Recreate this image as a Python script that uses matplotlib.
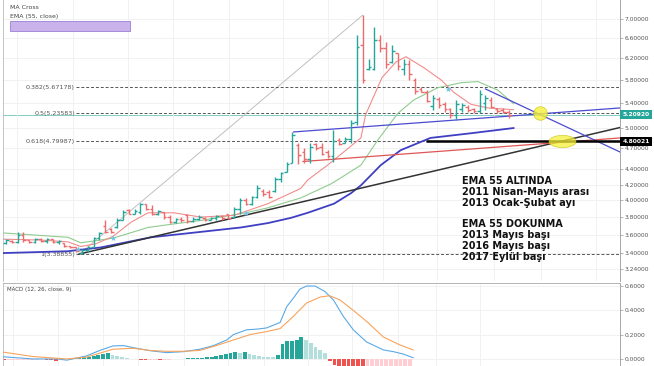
import numpy as np
import matplotlib
matplotlib.use('Agg')
import matplotlib.pyplot as plt
import matplotlib.transforms as mtransforms
from matplotlib.patches import Rectangle
from matplotlib.path import Path
from matplotlib.ticker import FixedLocator, NullLocator, NullFormatter

# haftalik barlar (acilis, yuksek, dusuk, kapanis)
opens = [3.51, 3.53, 3.52, 3.60, 3.54, 3.52, 3.55, 3.53, 3.55, 3.52,
         3.51, 3.48, 3.46, 3.40, 3.43, 3.47, 3.56, 3.70, 3.66, 3.68,
         3.77, 3.88, 3.84, 3.86, 3.95, 3.89, 3.83, 3.86, 3.80, 3.74,
         3.78, 3.82, 3.75, 3.78, 3.79, 3.77, 3.79, 3.81, 3.83, 3.80,
         3.90, 4.01, 3.95, 4.04, 4.12, 4.10, 4.12, 4.27, 4.36, 4.49,
         4.75, 4.65, 4.55, 4.76, 4.72, 4.64, 4.58, 4.82, 4.78, 4.83,
         5.10, 6.45, 5.99, 6.00, 6.55, 6.40, 6.12, 6.30, 6.00, 6.10,
         5.80, 5.64, 5.58, 5.35, 5.47, 5.38, 5.30, 5.20, 5.30, 5.34,
         5.30, 5.27, 5.40, 5.45, 5.30, 5.28, 5.25]
highs = [3.55, 3.54, 3.63, 3.63, 3.54, 3.56, 3.56, 3.56, 3.55, 3.54,
         3.51, 3.48, 3.46, 3.44, 3.48, 3.57, 3.63, 3.76, 3.67, 3.79,
         3.88, 3.90, 3.89, 3.97, 3.96, 3.94, 3.88, 3.86, 3.82, 3.79,
         3.80, 3.84, 3.80, 3.82, 3.80, 3.80, 3.82, 3.82, 3.84, 3.92,
         4.03, 4.03, 4.06, 4.19, 4.14, 4.13, 4.30, 4.37, 4.50, 4.94,
         4.77, 4.70, 4.77, 4.78, 4.77, 4.67, 4.97, 4.85, 4.86, 5.13,
         6.66, 7.08, 6.19, 6.82, 6.66, 6.52, 6.46, 6.30, 6.19, 6.17,
         5.84, 5.67, 5.62, 5.53, 5.50, 5.41, 5.32, 5.45, 5.40, 5.36,
         5.32, 5.62, 5.53, 5.50, 5.32, 5.32, 5.29]
lows = [3.50, 3.51, 3.51, 3.52, 3.51, 3.51, 3.52, 3.51, 3.51, 3.50,
        3.47, 3.45, 3.41, 3.39, 3.41, 3.46, 3.54, 3.62, 3.62, 3.67,
        3.76, 3.83, 3.84, 3.84, 3.88, 3.82, 3.82, 3.78, 3.73, 3.73,
        3.74, 3.73, 3.74, 3.76, 3.75, 3.76, 3.76, 3.77, 3.78, 3.79,
        3.84, 3.94, 3.94, 4.03, 4.06, 4.03, 4.10, 4.24, 4.36, 4.49,
        4.47, 4.49, 4.49, 4.67, 4.60, 4.56, 4.50, 4.74, 4.77, 4.78,
        5.05, 5.75, 5.98, 5.98, 6.33, 6.02, 6.11, 5.98, 5.89, 5.80,
        5.55, 5.58, 5.41, 5.29, 5.32, 5.26, 5.15, 5.13, 5.26, 5.26,
        5.24, 5.24, 5.29, 5.32, 5.24, 5.24, 5.16]
closes = [3.54, 3.52, 3.60, 3.54, 3.52, 3.55, 3.53, 3.55, 3.52, 3.53,
          3.48, 3.46, 3.42, 3.43, 3.47, 3.56, 3.62, 3.63, 3.63, 3.77,
          3.86, 3.84, 3.87, 3.95, 3.89, 3.83, 3.87, 3.80, 3.74, 3.78,
          3.76, 3.75, 3.78, 3.80, 3.77, 3.79, 3.81, 3.79, 3.79, 3.90,
          4.01, 3.95, 4.04, 4.16, 4.08, 4.04, 4.27, 4.35, 4.48, 4.90,
          4.60, 4.55, 4.72, 4.70, 4.62, 4.58, 4.80, 4.76, 4.84, 5.08,
          6.41, 5.80, 6.03, 6.55, 6.40, 6.10, 6.35, 6.05, 6.10, 5.90,
          5.60, 5.59, 5.44, 5.48, 5.36, 5.30, 5.20, 5.38, 5.36, 5.29,
          5.27, 5.55, 5.48, 5.34, 5.27, 5.25, 5.21]

# hareketli ortalamalar (bar no, fiyat)
ema_fast_x = [-0.85, 6.0, 10.6, 12.8, 15.4, 18.3, 21.4, 24.3, 28.7, 33.3, 39.0, 44.8,
              50.4, 51.6, 55.0, 59.0, 60.7, 61.5, 64.3, 66.7, 68.4, 71.5, 74.4, 76.6,
              79.5, 82.4, 86.8]
ema_fast_y = [3.55, 3.54, 3.52, 3.47, 3.50, 3.58, 3.74, 3.85, 3.85, 3.80, 3.82, 3.96,
              4.15, 4.26, 4.46, 4.73, 4.85, 5.21, 5.84, 6.13, 6.23, 6.02, 5.80, 5.58,
              5.38, 5.32, 5.29]
ema55_x = [-0.85, 10.6, 12.8, 18.3, 24.3, 28.7, 33.3, 41.0, 44.8, 50.4, 55.6, 57.3,
           60.7, 63.6, 67.0, 69.7, 73.8, 77.8, 80.7, 84.1, 86.8]
ema55_y = [3.62, 3.57, 3.51, 3.56, 3.68, 3.72, 3.76, 3.85, 3.91, 4.03, 4.21, 4.29,
           4.46, 4.82, 5.23, 5.45, 5.66, 5.75, 5.77, 5.62, 5.39]
ema_slow_x = [-0.85, 10.6, 16.2, 24.8, 33.3, 40.2, 44.8, 48.7, 51.6, 56.1, 59.0, 60.7,
              64.1, 67.5, 72.6, 79.5, 86.8]
ema_slow_y = [3.40, 3.42, 3.46, 3.57, 3.63, 3.68, 3.73, 3.79, 3.85, 3.96, 4.09, 4.19,
              4.46, 4.67, 4.85, 4.92, 5.00]

# fibonacci seviyeleri
fib_ratios = ['0.382', '0.5', '0.618', '1']
fib_prices = [5.67178, 5.23583, 4.79987, 3.38855]
fib_start = 12.0

last_price = 5.20920
level_price = 4.80021
level_start = 71.8

# cizilen trend cizgileri
trend_black_x = [12.5, 105.1]
trend_black_y = [3.39, 5.01]
fib_diag_x = [12.5, 61.0]
fib_diag_y = [3.38855, 7.08]
support_blue_x = [49.2, 105.1]
support_blue_y = [4.94, 5.32]
support_red_x = [50.8, 105.1]
support_red_y = [4.51, 4.85]
resist_blue_x = [82.0, 105.1]
resist_blue_y = [5.64, 4.64]

cross_x = [12.3, 18.3, 41.0, 75.6]
cross_y = [3.44, 3.56, 3.85, 5.64]

circle_x = [91.3, 95.0]
circle_y = [5.23, 4.80]

price_ticks = [7.0, 6.6, 6.2, 5.8, 5.4, 5.0, 4.7, 4.4, 4.2, 4.0, 3.8, 3.6, 3.4, 3.24]
grid_x = [1.9, 11.4, 20.9, 28.5, 38.1, 47.4, 55.0, 64.4, 73.7, 83.4, 91.5, 100.9]

note = ("EMA 55 ALTINDA\n2011 Nisan-May\u0131s aras\u0131\n2013 Ocak-\u015eubat ay\u0131\n\n"
        "EMA 55 DOKUNMA\n2013 May\u0131s ba\u015f\u0131\n2016 May\u0131s ba\u015f\u0131\n2017 Eyl\u00fcl ba\u015f\u0131")

# MACD (12, 26, close, 9)
macd_x = [-0.8, 6.1, 11.4, 13.3, 17.5, 20.3, 23.1, 25.3, 27.4, 30.9, 34.5, 38.0, 41.5,
          44.4, 47.2, 48.6, 51.4, 53.5, 55.6, 58.5, 59.9, 61.3, 62.7, 64.1, 65.9, 68.0,
          69.8, 71.9, 74.0, 76.8, 80.4, 82.5, 84.6, 86.7]
macd_y = [0.02, 0.0, 0.0, -0.01, 0.025, 0.07, 0.107, 0.11, 0.093, 0.068, 0.052, 0.06, 0.08,
          0.11, 0.156, 0.2, 0.24, 0.245, 0.255, 0.3, 0.43, 0.5, 0.575, 0.6, 0.6, 0.555,
          0.485, 0.35, 0.24, 0.14, 0.074, 0.06, 0.04, 0.01]
signal_x = [-0.8, 6.1, 13.3, 17.5, 23.1, 27.4, 30.9, 34.5, 38.0, 41.5, 45.0, 48.6, 52.1,
            55.6, 58.5, 61.3, 64.1, 67.0, 69.0, 71.2, 74.0, 76.8, 80.4, 83.9, 86.7]
signal_y = [0.06, 0.02, 0.0, 0.015, 0.08, 0.088, 0.07, 0.063, 0.063, 0.07, 0.11, 0.156, 0.2,
            0.225, 0.25, 0.35, 0.46, 0.51, 0.52, 0.485, 0.4, 0.31, 0.18, 0.115, 0.074]
hist = [-0.012, -0.011, -0.010, -0.009, -0.008, -0.007, -0.006, -0.005, -0.004, -0.008,
        -0.011, -0.013, -0.008, -0.004, 0.002, 0.004, 0.008, 0.013, 0.020, 0.028,
        0.035, 0.042, 0.050, 0.035, 0.025, 0.015, 0.008, 0.003, -0.003, -0.008,
        -0.012, -0.010, -0.008, -0.011, -0.007, -0.005, -0.003, -0.001, 0.002, 0.004,
        0.006, 0.008, 0.010, 0.012, 0.016, 0.022, 0.032, 0.042, 0.052, 0.060,
        0.050, 0.055, 0.042, 0.032, 0.026, 0.020, 0.020, 0.018, 0.030, 0.120,
        0.145, 0.150, 0.155, 0.180, 0.160, 0.130, 0.100, 0.070, 0.045, -0.015,
        -0.050, -0.080, -0.110, -0.130, -0.140, -0.150, -0.155, -0.150, -0.140, -0.130,
        -0.120, -0.110, -0.100, -0.090, -0.080, -0.070, -0.060]
macd_ticks = [0.6, 0.4, 0.2, 0.0]

UP = '#26a69a'
DOWN = '#ef6b6b'
GRID = '#efefef'
LABEL = '#555555'

fig = plt.figure(figsize=(6.54, 3.66), dpi=100)
ax = fig.add_axes([3 / 654, 85 / 366, 617 / 654, 281 / 366])
ax2 = fig.add_axes([3 / 654, 0, 617 / 654, 83 / 366])

# ---- fiyat paneli ----
ax.set_yscale('log')
ax.set_xlim(-0.5, 105)
ax.set_ylim(3.12, 7.42)
ax.yaxis.set_major_locator(FixedLocator(price_ticks))
ax.yaxis.set_minor_locator(NullLocator())
ax.yaxis.set_minor_formatter(NullFormatter())
ax.set_yticklabels(['%.5f' % t for t in price_ticks])
ax.yaxis.tick_right()
ax.tick_params(axis='y', labelsize=4.3, labelcolor=LABEL, length=2, width=0.5,
               color='#999999', pad=1.5)
ax.set_xticks(grid_x)
ax.tick_params(axis='x', length=0, labelbottom=False)
ax.grid(True, color=GRID, lw=0.6)
for s in ['top', 'bottom']:
    ax.spines[s].set_visible(False)
ax.spines['left'].set_color('#bbbbbb')
ax.spines['right'].set_color('#999999')
ax.spines['left'].set_linewidth(0.6)
ax.spines['right'].set_linewidth(0.6)

idx = np.arange(len(closes))
o = np.array(opens)
c = np.array(closes)
cols = [UP if cc >= oo else DOWN for oo, cc in zip(o, c)]

# fib cizgileri
ax.axhline(last_price, color='#80cbc4', lw=0.7, zorder=1)
ax.plot(fib_diag_x, fib_diag_y, color='#c0c0c0', lw=0.7, zorder=2)
for r, p in zip(fib_ratios, fib_prices):
    ax.hlines(p, fib_start, 105, colors='#555555', lw=0.7, linestyles=(0, (3, 2)), zorder=2)
    ax.text(fib_start - 0.2, p, '%s(%.5f)' % (r, p), ha='right', va='center',
            fontsize=4.6, color=LABEL, zorder=3)

ax.plot(ema_slow_x, ema_slow_y, color='#3f3fc4', lw=1.3, zorder=3)
ax.plot(trend_black_x, trend_black_y, color='#333333', lw=1.1, zorder=3)
ax.plot(ema55_x, ema55_y, color='#8fcc8f', lw=0.8, zorder=3)
ax.plot(ema_fast_x, ema_fast_y, color='#f28c8c', lw=0.8, zorder=3)

ax.plot(support_blue_x, support_blue_y, color='#4b4bd0', lw=0.9, zorder=3)
ax.plot(support_red_x, support_red_y, color='#e05555', lw=0.9, zorder=3)
ax.plot(resist_blue_x, resist_blue_y, color='#4b4bd0', lw=0.9, zorder=3)
ax.hlines(level_price, level_start, 105, colors='black', lw=1.8, zorder=3)

# OHLC barlari
ax.vlines(idx, lows, highs, colors=cols, lw=1.0, zorder=4)
ax.hlines(opens, idx - 0.45, idx, colors=cols, lw=1.0, zorder=4)
ax.hlines(closes, idx, idx + 0.45, colors=cols, lw=1.0, zorder=4)

ax.scatter(cross_x, cross_y, marker='*', s=22, color='#6ec6e6', zorder=5, lw=0)

t = np.linspace(0, 2 * np.pi, 60)
oval = Path(np.column_stack([np.cos(t), 0.45 * np.sin(t)]))
ax.scatter(circle_x[:1], circle_y[:1], marker='o', s=95, color='#f5f03a', alpha=0.8,
           edgecolors='#c9bf00', linewidths=0.5, zorder=6)
ax.scatter(circle_x[1:], circle_y[1:], marker=oval, s=380, color='#f5f03a', alpha=0.75,
           edgecolors='#c9bf00', linewidths=0.5, zorder=6)

ax.text(78, 4.31, note, ha='left', va='top', fontsize=7, fontweight='bold',
        linespacing=1.1, color='#111111', zorder=7)

# sag eksendeki fiyat kutulari
bt = mtransforms.blended_transform_factory(ax.transAxes, ax.transData)
ax.text(1.004, last_price, '%.5f' % last_price, transform=bt, ha='left', va='center',
        fontsize=4.3, color='white', fontweight='bold', clip_on=False,
        bbox=dict(boxstyle='square,pad=0.35', fc='#26a69a', ec='none'))
ax.text(1.004, level_price, '%.5f' % level_price, transform=bt, ha='left', va='center',
        fontsize=4.3, color='white', fontweight='bold', clip_on=False,
        bbox=dict(boxstyle='square,pad=0.35', fc='black', ec='none'))

# lejant
ax.text(0.0113, 0.975, 'MA Cross', transform=ax.transAxes, fontsize=4.5, color='#444444',
        va='center')
ax.text(0.0113, 0.943, 'EMA (55, close)', transform=ax.transAxes, fontsize=4.5,
        color='#444444', va='center')
ax.add_patch(Rectangle((0.0113, 0.8897), 0.1945, 0.0356, transform=ax.transAxes,
                       fc='#c9b3ea', ec='#9b7fd4', lw=0.6, zorder=7))

# ---- MACD paneli ----
ax2.set_xlim(-0.2, 130.5)
ax2.set_ylim(-0.058, 0.625)
ax2.yaxis.tick_right()
ax2.set_yticks(macd_ticks)
ax2.set_yticklabels(['%.4f' % v for v in macd_ticks])
ax2.tick_params(axis='y', labelsize=4.3, labelcolor=LABEL, length=2, width=0.5,
                color='#999999', pad=1.5)
ax2.set_xticks(grid_x)
ax2.tick_params(axis='x', length=0, labelbottom=False)
ax2.grid(True, color=GRID, lw=0.6)
ax2.spines['bottom'].set_visible(False)
ax2.spines['left'].set_color('#bbbbbb')
ax2.spines['right'].set_color('#999999')
ax2.spines['top'].set_color('#aaaaaa')
for s in ['left', 'right', 'top']:
    ax2.spines[s].set_linewidth(0.6)

hcols = []
prev = 0.0
for h in hist:
    if h >= 0:
        hcols.append('#26a69a' if h > prev else '#b2dfdb')
    else:
        hcols.append('#ef5350' if h < prev else '#ffcdd2')
    prev = h
ax2.bar(idx, hist, width=0.8, color=hcols, zorder=2)
ax2.plot(macd_x, macd_y, color='#5aa9e6', lw=0.8, zorder=3)
ax2.plot(signal_x, signal_y, color='#f7a35c', lw=0.8, zorder=3)
ax2.text(0.007, 0.92, 'MACD (12, 26, close, 9)', transform=ax2.transAxes, fontsize=4,
         color='#444444', va='center')

fig.savefig('out.png', dpi=100)
